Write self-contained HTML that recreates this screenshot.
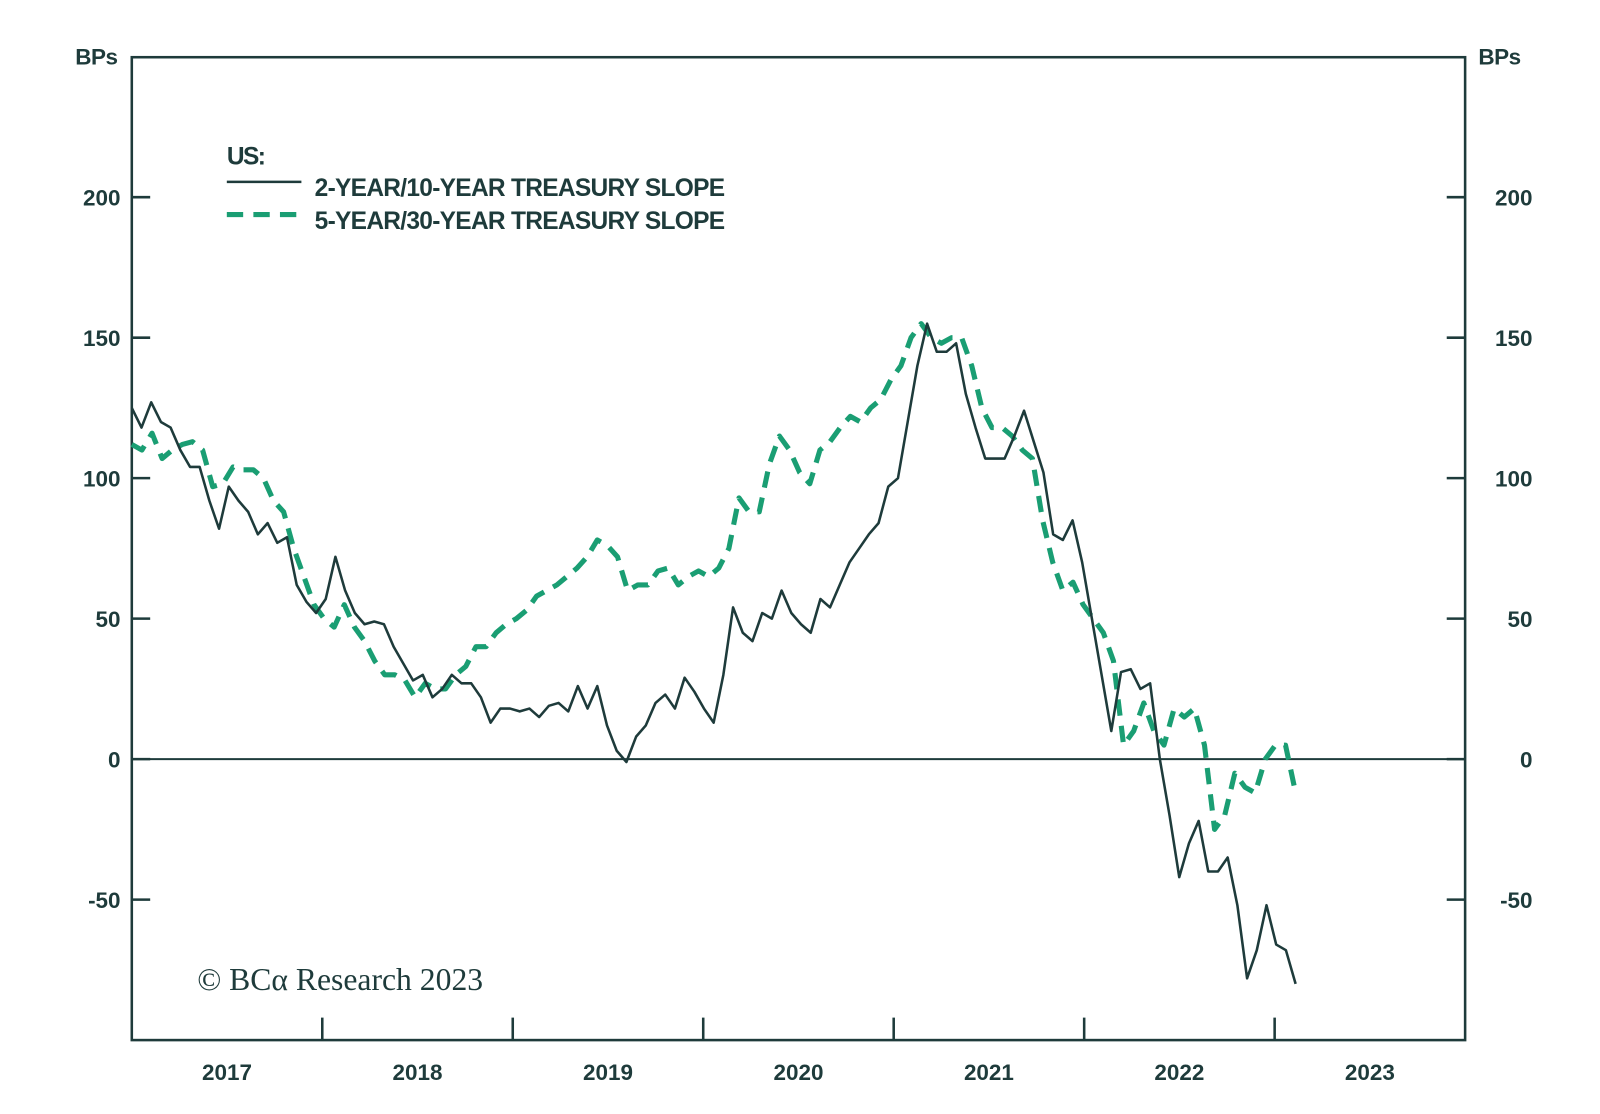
<!DOCTYPE html>
<html><head><meta charset="utf-8">
<style>
html,body{margin:0;padding:0;background:#fff;}
svg{display:block;}
text{font-family:"Liberation Sans",sans-serif;fill:#1e3b3b;}
</style></head>
<body>
<svg id="chart" width="1600" height="1114" viewBox="0 0 1600 1114">
 <g transform="scale(1.0217)">
  <g id="axes"></g>
  <g id="series"></g>
  <g>
    <text x="222" y="161" font-size="24" letter-spacing="-1.5" font-weight="bold">US:</text>
    <line x1="222" y1="178" x2="295" y2="178" stroke="#1e3b3b" stroke-width="2.5"/>
    <text x="308" y="192" font-size="24" letter-spacing="-0.7" font-weight="bold">2-YEAR/10-YEAR TREASURY SLOPE</text>
    <line x1="222" y1="210" x2="295" y2="210" stroke="#1a9e73" stroke-width="5" stroke-dasharray="16,10"/>
    <text x="308" y="224" font-size="24" letter-spacing="-0.7" font-weight="bold">5-YEAR/30-YEAR TREASURY SLOPE</text>
  </g>
  <text x="193" y="969" font-size="31" style="font-family:'Liberation Serif',serif">© BCα Research 2023</text>
 </g>
</svg>
<script>
const yTicks=[200,150,100,50,0,-50];
const yearLabels=["2017","2018","2019","2020","2021","2022","2023"];
const slope2s10s=[125,118,127,120,118,110,104,104,92,82,97,92,88,80,84,77,79,62,56,52,57,72,60,52,48,49,48,40,34,28,30,22,25,30,27,27,22,13,18,18,17,18,15,19,20,17,26,18,26,12,3,-1,8,12,20,23,18,29,24,18,13,30,54,45,42,52,50,60,52,48,45,57,54,62,70,75,80,84,97,100,120,140,155,145,145,148,130,118,107,107,107,115,124,113,102,80,78,85,70,50,30,10,31,32,25,27,0,-20,-42,-30,-22,-40,-40,-35,-52,-78,-68,-52,-66,-68,-80];
const slope5s30s=[112,110,116,107,110,112,113,110,97,98,104,103,103,100,92,88,75,65,55,50,47,55,47,42,35,30,30,28,22,27,25,25,30,33,40,40,45,48,50,53,58,60,62,65,68,72,78,76,72,60,62,62,67,68,62,65,67,65,68,75,93,88,88,105,115,110,102,98,110,113,118,122,120,125,128,135,140,150,155,150,148,150,150,140,125,118,118,115,110,107,85,70,60,63,55,50,45,35,5,10,20,10,5,18,15,18,5,-25,-20,-5,-10,-12,0,5,5,-12];
const seriesStart=2017.0, seriesEnd=2023.11;

const L=129,R=1434,T=56,B=1018;
const xS=yr=>L+(yr-2017)*(R-L)/7;
const yS=v=>743-v*2.75;
const NS='http://www.w3.org/2000/svg';
function mk(tag,attrs,parent){const e=document.createElementNS(NS,tag);for(const k in attrs)e.setAttribute(k,attrs[k]);parent.appendChild(e);return e;}
const ax=document.getElementById('axes');
let f=mk('rect',{x:L,y:T,width:R-L,height:B-T,fill:'none',stroke:'#1e3b3b','stroke-width':2.5},ax);


let z=mk('line',{x1:L,x2:R,y1:yS(0),y2:yS(0),stroke:'#1e3b3b','stroke-width':2},ax);


for(const v of yTicks){
  const y=yS(v);
  let t1=mk('line',{x1:L,x2:L+18,y1:y,y2:y,stroke:'#1e3b3b','stroke-width':2.5},ax);
  
  
  let t2=mk('line',{x1:R-18,x2:R,y1:y,y2:y,stroke:'#1e3b3b','stroke-width':2.5},ax);
  
  
  let a=mk('text',{x:118,y:y+8,'font-size':22,'font-weight':'bold','text-anchor':'end'},ax);a.textContent=v;
  
  
  let b=mk('text',{x:1500,y:y+8,'font-size':22,'font-weight':'bold','text-anchor':'end'},ax);b.textContent=v;
  
  
}
let u1=mk('text',{x:115,y:63,'font-size':22,'font-weight':'bold','text-anchor':'end','letter-spacing':-0.5},ax);u1.textContent='BPs';


let u2=mk('text',{x:1447,y:63,'font-size':22,'font-weight':'bold','letter-spacing':-0.5},ax);u2.textContent='BPs';


yearLabels.forEach((lab,i)=>{
  const yr=2017+i;
  if(i>0){let t=mk('line',{x1:xS(yr),x2:xS(yr),y1:996,y2:B,stroke:'#1e3b3b','stroke-width':2.5},ax);
    
    }
  let tx=mk('text',{x:xS(yr+0.5),y:1057,'font-size':22,'font-weight':'bold','text-anchor':'middle'},ax);tx.textContent=lab;
  
  
});
function path(vals){
  const n=vals.length,step=(seriesEnd-seriesStart)/(n-1);
  return vals.map((v,i)=>(i?'L':'M')+xS(seriesStart+i*step).toFixed(1)+','+yS(v).toFixed(1)).join('');
}
const sg=document.getElementById('series');
let p2=mk('path',{d:path(slope5s30s),fill:'none',stroke:'#1a9e73','stroke-width':5,'stroke-dasharray':'16,10','stroke-linejoin':'round'},sg);


let p1=mk('path',{d:path(slope2s10s),fill:'none',stroke:'#1e3b3b','stroke-width':2.5,'stroke-linejoin':'round'},sg);


</script>
</body></html>
